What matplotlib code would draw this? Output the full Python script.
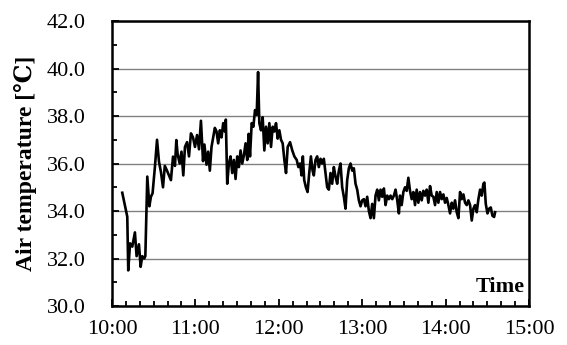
import matplotlib
matplotlib.use("Agg")
import matplotlib.pyplot as plt
from matplotlib.ticker import MultipleLocator
import numpy as np

plt.rcParams["font.family"] = ["Liberation Serif", "DejaVu Serif", "DejaVu Sans"]

# minutes after 10:00 and air temperature
time_min = [
    7.4, 11.0, 11.7, 13.0, 14.6, 16.5, 17.7, 19.4, 20.6, 21.8, 23.2, 24.0,
    25.4, 26.9, 28.0, 29.2, 30.9, 32.4, 33.8, 35.2, 36.7, 38.0, 39.6, 41.0,
    42.4, 43.9, 45.3, 46.3, 47.2, 48.7, 50.0, 51.3, 52.5, 54.0, 55.4, 56.8,
    58.3, 59.7, 61.2, 62.6, 64.0, 65.5, 66.5, 68.0, 69.2, 70.4,
    71.6, 72.8, 74.0, 75.2, 76.4, 77.6, 78.8, 80.0, 81.2, 81.9, 82.9, 84.1,
    85.3, 86.5, 87.7, 88.9, 90.1, 91.3, 92.5, 93.7, 94.9, 96.1, 97.3, 98.3,
    99.3, 100.5, 101.7, 102.9, 104.1, 105.1, 106.0, 107.2, 108.4, 109.6,
    110.8, 112.0, 113.2, 114.4, 115.6, 116.8, 118.0, 119.2, 120.4, 121.6,
    122.8, 124.0, 125.2, 126.4, 128.1, 129.7, 131.2, 132.9, 134.1, 135.3,
    136.4, 137.3, 138.3, 139.5, 140.7, 141.9, 143.1, 144.3, 145.2, 146.4,
    147.6, 148.8, 150.0, 151.2, 152.4, 153.6, 154.8, 156.0, 157.2, 158.4,
    159.6, 160.8, 162.0, 163.2, 164.4, 165.6, 166.8, 168.0, 169.2, 170.4,
    171.6, 172.8, 174.0, 175.2, 176.4, 177.6, 178.8, 180.0, 181.2, 182.4,
    183.6, 184.8, 186.0, 187.2, 188.4, 189.6, 190.8, 192.0, 193.2, 194.4,
    195.6, 196.8, 198.0, 199.2, 200.4, 201.6, 202.8, 204.0, 205.2, 206.4,
    207.2, 208.4, 209.6, 210.8, 212.0, 213.2, 214.4, 215.6, 216.8, 218.0,
    219.2, 220.4, 221.6, 222.8, 224.0, 225.2, 226.4, 227.6, 228.8, 230.0,
    231.2, 232.4, 233.6, 234.8, 236.0, 237.2, 238.4, 239.6, 240.8, 242.0,
    243.2, 244.4, 245.6, 246.8, 248.0, 249.2, 250.4, 251.6, 252.8, 254.0,
    255.2, 256.4, 257.6, 258.8, 260.0, 261.2, 262.4, 263.6, 264.8, 266.0,
    267.2, 267.9, 268.9, 270.1, 271.3, 272.5, 273.7, 274.9, 275.6,
]
air_temp = [
    34.77, 33.76, 31.5, 32.64, 32.5, 33.1, 32.1, 32.6, 31.65, 32.1, 32.0, 32.1,
    35.45, 34.2, 34.6, 34.75, 35.87, 37.0, 36.08, 35.65, 35.0, 35.9, 35.7, 35.5,
    35.3, 36.29, 35.9, 36.99, 36.4, 36.0, 36.5, 35.5, 36.7, 36.9, 36.3, 37.27,
    37.1, 36.7, 37.2, 36.6, 37.8, 36.1, 36.8, 35.95, 36.5, 35.7,
    36.7, 37.1, 37.5, 37.35, 36.85, 37.4, 37.1, 37.7, 37.35, 37.85, 35.15, 36.0,
    36.3, 35.6, 36.15, 35.35, 36.3, 35.85, 36.55, 36.0, 36.35, 36.85, 36.15, 37.25,
    36.3, 37.7, 37.55, 38.25, 38.05, 39.85, 37.7, 37.4, 37.95, 36.55,
    37.55, 36.85, 37.7, 36.7, 37.55, 37.35, 37.7, 37.05, 37.4, 37.0,
    36.85, 36.15, 35.6, 36.7, 36.9, 36.55, 36.3, 36.15, 35.85, 36.0,
    35.5, 36.3, 35.3, 35.0, 34.8, 35.6, 36.3, 35.7, 35.5, 36.15,
    36.3, 35.85, 36.2, 36.0, 36.2, 35.6, 35.0, 34.9, 35.6, 35.15,
    35.85, 35.45, 35.15, 35.7, 36.0, 35.0, 34.6, 34.1, 35.3, 35.8,
    36.0, 35.7, 35.8, 35.15, 34.9, 34.45, 34.2, 34.45, 34.5, 34.2,
    34.6, 34.0, 33.7, 34.3, 33.7, 34.65, 34.9, 34.45, 34.9, 34.6,
    34.95, 34.25, 34.65, 34.5, 34.65, 34.5, 34.65, 34.9, 34.45, 33.9,
    34.65, 34.25, 34.8, 35.0, 34.85, 35.4, 34.85, 34.5, 34.8, 34.25,
    34.9, 34.35, 34.8, 34.45, 34.85, 34.65, 34.9, 34.35, 35.05, 34.65,
    34.6, 34.25, 34.8, 34.35, 34.8, 34.5, 34.7, 34.35, 34.55, 34.25,
    33.9, 34.35, 34.1, 34.45, 33.95, 33.7, 34.8, 34.5, 34.7, 34.35,
    34.25, 34.45, 34.25, 33.6, 34.1, 34.25, 33.95, 34.5, 34.9, 34.65,
    35.15, 35.2, 34.3, 33.9, 34.1, 34.15, 33.8, 33.75, 33.95,
]

hour_ticks = [10, 11, 12, 13, 14, 15]
hour_labels = ["10:00", "11:00", "12:00", "13:00", "14:00", "15:00"]
temp_ticks = [30, 32, 34, 36, 38, 40, 42]

FONTSIZE = 16

fig = plt.figure(figsize=(5.67, 3.45), dpi=100)
ax = fig.add_axes([0.1975, 0.113, 0.7355, 0.826])

x_hours = 10 + np.array(time_min) / 60.0
ax.plot(x_hours, air_temp, color="black", linewidth=1.9, zorder=3)

ax.set_xlim(10, 15)
ax.set_ylim(30, 42)
ax.set_xticks(hour_ticks)
ax.set_xticklabels(hour_labels)
ax.xaxis.set_minor_locator(MultipleLocator(1 / 6))
ax.set_yticks(temp_ticks)
ax.set_yticklabels([f"{v:.1f}" for v in temp_ticks])
ax.yaxis.set_minor_locator(MultipleLocator(1))

ax.grid(True, axis="y", color="#808080", linewidth=1.0, zorder=1)
ax.tick_params(axis="both", which="major", direction="in", length=5, width=1.3,
               labelsize=FONTSIZE, colors="black")
ax.tick_params(axis="both", which="minor", direction="in", length=3.5, width=1.3)
ax.tick_params(axis="y", which="major", pad=19)
ax.tick_params(axis="x", which="major", pad=10)
for sp in ax.spines.values():
    sp.set_linewidth(1.8)
    sp.set_color("black")

ax.set_ylabel("Air temperature [℃]", fontsize=17, fontweight="bold", labelpad=7)
ax.text(0.99, 0.03, "Time", transform=ax.transAxes, ha="right", va="bottom",
        fontsize=FONTSIZE, fontweight="bold")

fig.savefig("out.png", dpi=100)
